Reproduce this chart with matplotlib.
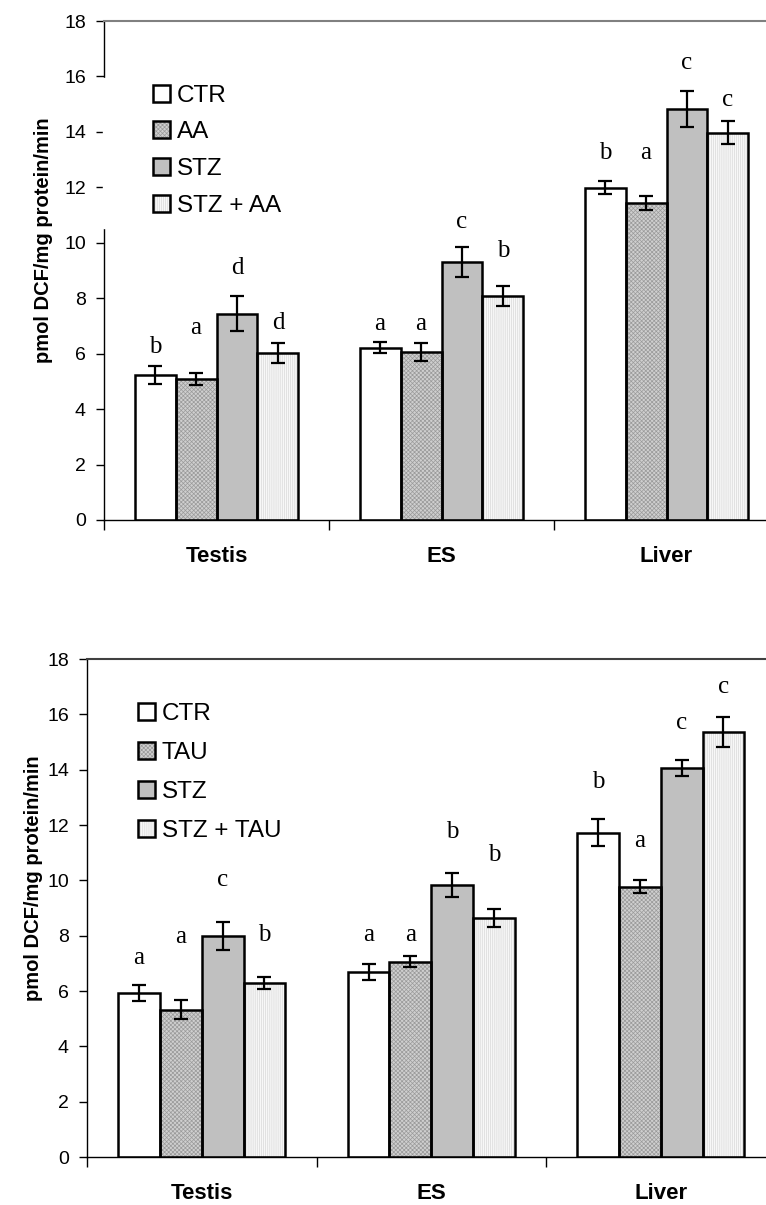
import matplotlib
matplotlib.use('Agg')
import matplotlib.pyplot as plt
import numpy as np
from matplotlib.patches import Rectangle
from matplotlib.legend_handler import HandlerTuple

plt.rcParams['font.family'] = ['Liberation Sans', 'DejaVu Sans']
plt.rcParams['hatch.linewidth'] = 0.5

tissues = ['Testis', 'ES', 'Liver']

# upper panel (ascorbic acid) - one row per group, values per tissue
groups_aa = ['CTR', 'AA', 'STZ', 'STZ + AA']
mean_aa = [[5.23, 6.21, 11.99],
           [5.09, 6.06, 11.44],
           [7.44, 9.31, 14.84],
           [6.03, 8.09, 13.97]]
err_aa = [[0.32, 0.20, 0.24],
          [0.22, 0.32, 0.25],
          [0.63, 0.54, 0.65],
          [0.36, 0.36, 0.41]]
letters_aa = [['b', 'a', 'b'],
              ['a', 'a', 'a'],
              ['d', 'c', 'c'],
              ['d', 'b', 'c']]
letter_y_aa = [[6.25, 7.08, 13.25],
               [6.93, 7.08, 13.25],
               [9.1, 10.76, 16.5],
               [7.1, 9.7, 15.16]]

# lower panel (taurine)
groups_tau = ['CTR', 'TAU', 'STZ', 'STZ + TAU']
mean_tau = [[5.93, 6.69, 11.72],
            [5.32, 7.05, 9.77],
            [7.99, 9.84, 14.07],
            [6.29, 8.64, 15.37]]
err_tau = [[0.30, 0.30, 0.49],
           [0.34, 0.20, 0.23],
           [0.52, 0.43, 0.29],
           [0.23, 0.34, 0.54]]
letters_tau = [['a', 'a', 'b'],
               ['a', 'a', 'a'],
               ['c', 'b', 'c'],
               ['b', 'b', 'c']]
letter_y_tau = [[7.2, 8.03, 13.56],
                [7.96, 8.03, 11.43],
                [10.0, 11.75, 15.7],
                [8.03, 10.92, 17.0]]

# face colour, hatch, hatch colour per group
styles = [('white', None, 'white'),
          ('#cfcfcf', 'xxxxxxxx', '#9a9a9a'),
          ('#c0c0c0', None, '#c0c0c0'),
          ('#f7f7f7', '||||||||', '#d8d8d8')]

w = 0.182
x = np.arange(len(tissues))


def panel(ax, groups, mean, err, letters, letter_y, leg_xy, leg_sp, top_col, ylab_x):
    handles = []
    for i in range(len(groups)):
        xs = x + (i - 1.5) * w
        face, hatch, hcol = styles[i]
        b1 = ax.bar(xs, mean[i], w, color=face, edgecolor=hcol, hatch=hatch, linewidth=0, zorder=2)
        b2 = ax.bar(xs, mean[i], w, fill=False, edgecolor='black', linewidth=1.8, zorder=3)
        ax.errorbar(xs, mean[i], yerr=err[i], fmt='none', ecolor='black',
                    elinewidth=1.6, capsize=5, capthick=1.6, zorder=4)
        for j in range(len(tissues)):
            ax.text(xs[j], letter_y[i][j], letters[i][j], ha='center', va='center',
                    fontsize=18, family='Liberation Serif')
        handles.append((b1, b2))

    ax.legend(handles, groups, handler_map={tuple: HandlerTuple(ndivide=1)},
              loc='upper left', bbox_to_anchor=leg_xy, borderaxespad=0, borderpad=0,
              frameon=False, fontsize=17.5, handlelength=0.7, handleheight=0.7,
              handletextpad=0.28, labelspacing=leg_sp)

    ax.set_xlim(-0.5, 2.5)
    ax.set_ylim(0, 18)
    ax.set_yticks(range(0, 19, 2))
    ax.set_xticks(x, tissues, fontweight='bold', fontsize=16)
    ax.set_xticks([-0.5, 0.5, 1.5, 2.5], minor=True)
    ax.tick_params(axis='x', which='major', length=0, pad=19)
    ax.tick_params(axis='x', which='minor', length=7, width=1)
    ax.tick_params(axis='y', length=6, width=1, labelsize=14, pad=7)
    ax.spines['right'].set_visible(False)
    ax.spines['top'].set_color(top_col)
    ax.spines['top'].set_linewidth(1.5)
    ax.spines['left'].set_linewidth(1)
    ax.spines['bottom'].set_linewidth(1)
    ax.set_ylabel('pmol DCF/mg protein/min', fontweight='bold', fontsize=14.5)
    ax.yaxis.set_label_coords(ylab_x, 0.56)


fig = plt.figure(figsize=(7.66, 12.05), dpi=100)

ax1 = fig.add_axes([104 / 766, 1 - 520 / 1205, 675 / 766, 499 / 1205])
panel(ax1, groups_aa, mean_aa, err_aa, letters_aa, letter_y_aa, (0.0726, 0.872), 0.6,
      '#808080', -0.0756)
# the legend box hides part of the left axis line in the upper panel
ax1.add_patch(Rectangle((-0.002, 10.55), 0.012, 5.4, transform=ax1.get_yaxis_transform(),
                        color='white', clip_on=False, zorder=3))

ax2 = fig.add_axes([87 / 766, 1 - 1157 / 1205, 688.5 / 766, 498 / 1205])
panel(ax2, groups_tau, mean_tau, err_tau, letters_tau, letter_y_tau, (0.074, 0.912), 0.7,
      '#404040', -0.064)

fig.savefig('out.png', dpi=100)
